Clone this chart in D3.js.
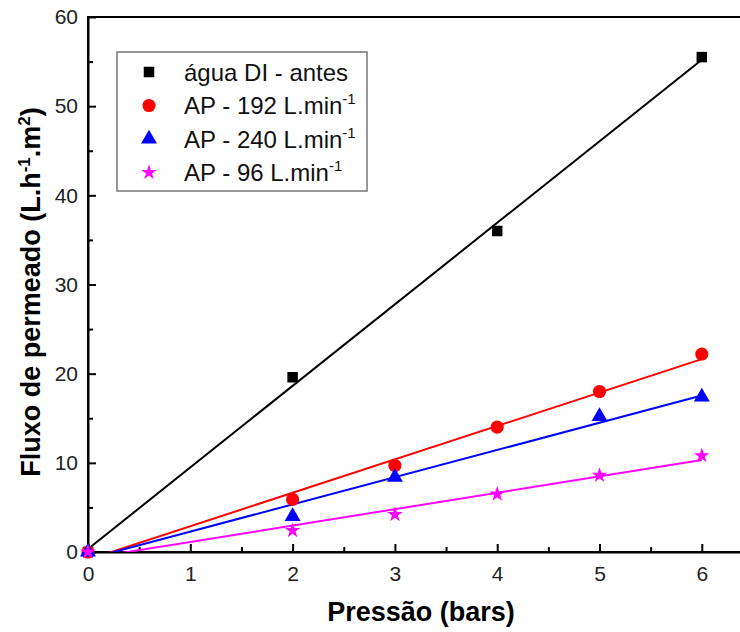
<!DOCTYPE html>
<html>
<head>
<meta charset="utf-8">
<script src="https://cdn.jsdelivr.net/npm/d3@7"></script>
<style>
  body { margin: 0; background: #fff; }
  svg { font-family: "Liberation Sans", Arial, sans-serif; }
</style>
</head>
<body>
<script>
width = 740;
height = 632;
margin = { top: 17, right: -14, bottom: 80, left: 88 }

// data
var pressao_agua = [0, 2, 4, 6];
var fluxo_agua = [0, 19.6, 36, 55.5];
var pressao_192 = [0, 2, 3, 4, 5, 6];
var fluxo_192 = [0, 5.9, 9.7, 14, 18, 22.2];
var pressao_240 = [0, 2, 3, 5, 6];
var fluxo_240 = [0, 4.0, 8.4, 15.2, 17.4];
var pressao_96 = [0, 2, 3, 4, 5, 6];
var fluxo_96 = [0, 2.4, 4.2, 6.5, 8.6, 10.8];

var xTicks = [0, 1, 2, 3, 4, 5, 6];
var yTicks = [0, 10, 20, 30, 40, 50, 60];

var series = [
    { name: "água DI - antes", sup: null, x: pressao_agua, y: fluxo_agua, color: "#000000", symbol: d3.symbolSquare, size: 110 },
    { name: "AP - 192 L.min", sup: "-1", x: pressao_192, y: fluxo_192, color: "#ff0000", symbol: d3.symbolCircle, size: 135 },
    { name: "AP - 240 L.min", sup: "-1", x: pressao_240, y: fluxo_240, color: "#0000ff", symbol: d3.symbolTriangle, size: 110 },
    { name: "AP - 96 L.min", sup: "-1", x: pressao_96, y: fluxo_96, color: "#ff00ff", symbol: d3.symbolStar, size: 75 }
];

// least squares fit for each series
function linfit(xs, ys){
    var mx = d3.mean(xs), my = d3.mean(ys);
    var sxy = d3.sum(xs, (v, i) => (v - mx) * (ys[i] - my));
    var sxx = d3.sum(xs, v => (v - mx) * (v - mx));
    var b = sxy / sxx;
    return { b: b, a: my - b * mx };
}

x = d3.scaleLinear()
    .domain([0, 6.5])
    .range([margin.left, margin.left + 6.5 * 102.3]);

y = d3.scaleLinear()
    .domain([0, 60])
    .range([552, margin.top]);

const svg = d3.select('body')
    .append("svg")
    .attr("width", width)
    .attr("height", height);

svg.append("defs").append("clipPath")
    .attr("id", "plotclip")
    .append("rect")
    .attr("x", x(0))
    .attr("y", y(60))
    .attr("width", x(6.5) - x(0))
    .attr("height", y(0) - y(60));

// frame (top and right)
svg.append("rect")
    .attr("x", x(0))
    .attr("y", y(60))
    .attr("width", x(6.5) - x(0))
    .attr("height", y(0) - y(60))
    .attr("fill", "none")
    .attr("stroke", "black")
    .attr("stroke-width", 2);

// minor ticks
svg.append("g")
    .attr("transform", `translate(0,${y(0)})`)
    .call(d3.axisBottom(x).tickValues([0.5, 1.5, 2.5, 3.5, 4.5, 5.5]).tickSize(-5).tickFormat(""))
    .call(g => g.select(".domain").remove())
    .call(g => g.selectAll("line").attr("stroke-width", 2));
svg.append("g")
    .attr("transform", `translate(${x(0)},0)`)
    .call(d3.axisLeft(y).tickValues([5, 15, 25, 35, 45, 55]).tickSize(-5).tickFormat(""))
    .call(g => g.select(".domain").remove())
    .call(g => g.selectAll("line").attr("stroke-width", 2));

// x axis
svg.append("g")
    .attr("transform", `translate(0,${y(0)})`)
    .call(d3.axisBottom(x).tickValues(xTicks).tickSizeInner(-8).tickSizeOuter(0).tickPadding(14).tickFormat(d3.format("d")))
    .call(g => g.select(".domain").attr("stroke-width", 2))
    .call(g => g.selectAll("line").attr("stroke-width", 2))
    .call(g => g.selectAll("text").attr("font-size", 21).attr("fill", "#222"));

// y axis
svg.append("g")
    .attr("transform", `translate(${x(0)},0)`)
    .call(d3.axisLeft(y).tickValues(yTicks).tickSizeInner(-8).tickSizeOuter(0).tickPadding(10))
    .call(g => g.select(".domain").attr("stroke-width", 2))
    .call(g => g.selectAll("line").attr("stroke-width", 2))
    .call(g => g.selectAll("text").attr("font-size", 21).attr("fill", "#222"));

// axis titles
svg.append("text")
    .attr("x", 421)
    .attr("y", 621)
    .attr("text-anchor", "middle")
    .attr("font-size", 27)
    .attr("font-weight", "bold")
    .text("Pressão (bars)");

var ylab = svg.append("text")
    .attr("transform", "translate(40," + 292 + ") rotate(-90)")
    .attr("text-anchor", "middle")
    .attr("font-size", 27)
    .attr("font-weight", "bold");
ylab.append("tspan").text("Fluxo de permeado (L.h");
ylab.append("tspan").attr("dy", -10).attr("font-size", 17).text("-1");
ylab.append("tspan").attr("dy", 10).text(".m");
ylab.append("tspan").attr("dy", -10).attr("font-size", 17).text("2");
ylab.append("tspan").attr("dy", 10).text(")");

// fit lines
var plot = svg.append("g").attr("clip-path", "url(#plotclip)");
series.forEach(function(s){
    var f = linfit(s.x, s.y);
    plot.append("line")
        .attr("x1", x(0))
        .attr("y1", y(f.a))
        .attr("x2", x(6))
        .attr("y2", y(f.a + 6 * f.b))
        .attr("stroke", s.color)
        .attr("stroke-width", 2);
});

// markers
series.forEach(function(s){
    svg.append("g")
        .selectAll("path")
        .data(s.x.map((v, i) => [v, s.y[i]]))
        .join("path")
        .attr("transform", d => `translate(${x(d[0])},${y(d[1])})`)
        .attr("d", d3.symbol().type(s.symbol).size(s.size))
        .attr("fill", s.color);
});

// legend
var legend = svg.append("g").attr("class", "legend");
legend.append("rect")
    .attr("x", 117)
    .attr("y", 52)
    .attr("width", 250)
    .attr("height", 139)
    .attr("fill", "white")
    .attr("stroke", "#777")
    .attr("stroke-width", 1.5);
var rows = legend.selectAll("g")
    .data(series)
    .join("g")
    .attr("transform", (d, i) => `translate(149,${72 + i * 33.5})`);
rows.append("path")
    .attr("d", d => d3.symbol().type(d.symbol).size(d.size)())
    .attr("fill", d => d.color);
var lt = rows.append("text")
    .attr("x", 35)
    .attr("dy", "0.36em")
    .attr("font-size", 24)
    .attr("fill", "#111");
lt.append("tspan").text(d => d.name);
lt.filter(d => d.sup).append("tspan")
    .attr("dy", -10)
    .attr("font-size", 15)
    .text(d => d.sup);
</script>
</body>
</html>
